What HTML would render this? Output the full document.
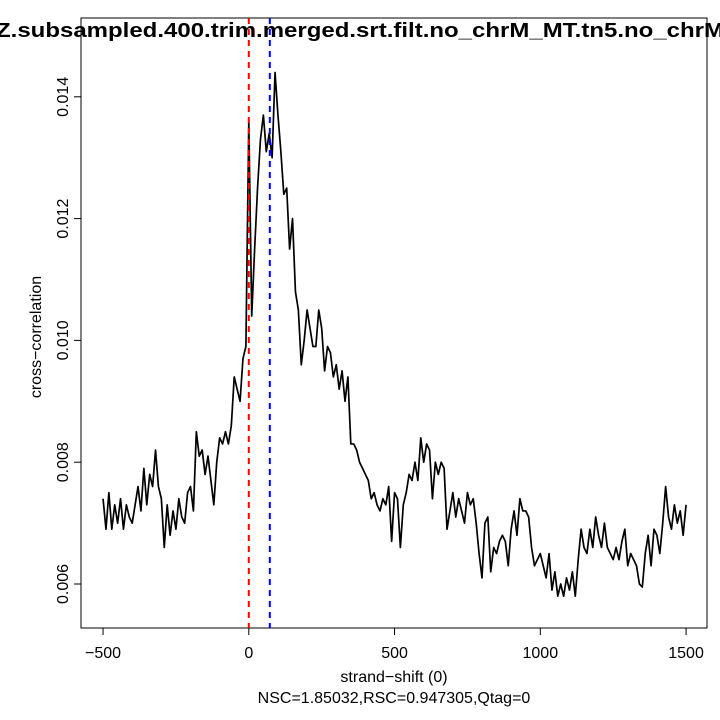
<!DOCTYPE html>
<html><head><meta charset="utf-8"><style>
html,body{margin:0;padding:0;background:#fff;}
svg{display:block;font-family:"Liberation Sans",sans-serif;}
</style></head><body>
<svg id="chart" width="720" height="720" viewBox="0 0 720 720">
<rect width="720" height="720" fill="#fff"/>
<text x="-4" y="37" font-size="20" font-weight="bold" textLength="728" lengthAdjust="spacingAndGlyphs">Z.subsampled.400.trim.merged.srt.filt.no_chrM_MT.tn5.no_chrM</text>
<rect x="81" y="18" width="626" height="610" fill="none" stroke="#000" stroke-width="1"/>
<g id="xaxis"></g>
<g id="yaxis"></g>
<g id="marks"></g>
<text x="394" y="682" font-size="16" text-anchor="middle">strand−shift (0)</text>
<text x="394" y="703" font-size="16" text-anchor="middle">NSC=1.85032,RSC=0.947305,Qtag=0</text>
<text transform="translate(41,337) rotate(-90)" font-size="16" text-anchor="middle">cross−correlation</text>
</svg>
<script>
const shiftStart = -500;
const shiftStep = 10;
const corrE3 = [7.4,6.9,7.5,6.9,7.3,7.0,7.4,6.9,7.3,7.1,7.0,7.3,7.6,7.2,7.9,7.3,7.8,7.6,8.2,7.6,
7.4,6.6,7.3,6.8,7.2,6.9,7.4,7.1,7.0,7.5,7.6,7.2,8.5,8.1,8.2,7.8,8.1,7.7,7.3,8.0,
8.4,8.3,8.5,8.3,8.6,9.4,9.2,9.0,9.7,9.9,13.6,10.4,11.5,12.5,13.3,13.7,13.1,13.4,13.0,14.4,
13.7,13.1,12.4,12.5,11.5,12.0,10.8,10.5,9.6,10.0,10.5,10.2,9.9,9.9,10.5,10.2,9.5,9.9,9.8,9.4,
9.6,9.2,9.5,9.0,9.4,8.3,8.3,8.2,8.0,7.9,7.8,7.7,7.4,7.5,7.3,7.2,7.4,7.3,7.6,6.7,
7.5,7.4,6.6,7.3,7.5,7.8,7.7,8.0,7.7,8.4,8.0,8.3,8.2,7.4,8.0,7.8,8.0,7.9,6.9,7.2,
7.5,7.1,7.4,7.2,7.0,7.5,7.3,7.4,7.0,6.5,6.1,7.0,7.1,6.2,6.6,6.5,6.7,6.8,6.7,6.3,
6.9,7.2,6.8,7.4,7.2,7.2,7.1,6.6,6.3,6.4,6.5,6.3,6.1,6.5,5.9,6.2,5.8,6.0,5.8,6.1,
5.9,6.2,5.8,6.4,6.9,6.6,6.5,6.9,6.6,7.1,6.8,6.6,7.0,6.6,6.5,6.4,6.6,6.4,6.7,6.9,
6.3,6.5,6.4,6.3,6.0,5.95,6.5,6.8,6.3,6.9,6.8,6.5,7.0,7.6,7.1,6.9,7.3,7.0,7.2,6.8,7.3];
const xTicks = [-500,0,500,1000,1500];
const xTickLabels = ["−500","0","500","1000","1500"];
const yTicks = [0.006,0.008,0.010,0.012,0.014];
const yTickLabels = ["0.006","0.008","0.010","0.012","0.014"];
const readShifts = [0, 72];
const NS="http://www.w3.org/2000/svg";
const xS = v => 248.8 + v*0.2915;
const yS = v => 584 - (v-0.006)*60900;
function mk(tag, attrs, parent){const e=document.createElementNS(NS,tag);for(const k in attrs)e.setAttribute(k,attrs[k]);parent.appendChild(e);return e;}
const xa=document.getElementById('xaxis'), ya=document.getElementById('yaxis'), mg=document.getElementById('marks');
xTicks.forEach((t,i)=>{
  const l=mk('line',{x1:xS(t),x2:xS(t),y1:628,y2:635,stroke:'#000'},xa);
  
  
  const tx=mk('text',{x:xS(t),y:658,'font-size':16,'text-anchor':'middle'},xa);
  tx.textContent=xTickLabels[i];
  
  
});
yTicks.forEach((t,i)=>{
  const l=mk('line',{x1:74,x2:81,y1:yS(t),y2:yS(t),stroke:'#000'},ya);
  
  
  const tx=mk('text',{transform:`translate(68,${yS(t)}) rotate(-90)`,'font-size':16,'text-anchor':'middle'},ya);
  tx.textContent=yTickLabels[i];
  
  
});
const pts=corrE3.map((v,i)=>xS(shiftStart+i*shiftStep).toFixed(2)+','+yS(v/1000).toFixed(2)).join(' ');
const line=mk('polyline',{points:pts,fill:'none',stroke:'#000','stroke-width':1.7,'stroke-linejoin':'round'},mg);


const cols=['#ff0000','#0000ff'];
readShifts.forEach((s,i)=>{
  const l=mk('line',{x1:xS(s),x2:xS(s),y1:18,y2:628,stroke:cols[i],'stroke-width':2,'stroke-dasharray':'6,5'},mg);
  
  
});
</script>
</body></html>
